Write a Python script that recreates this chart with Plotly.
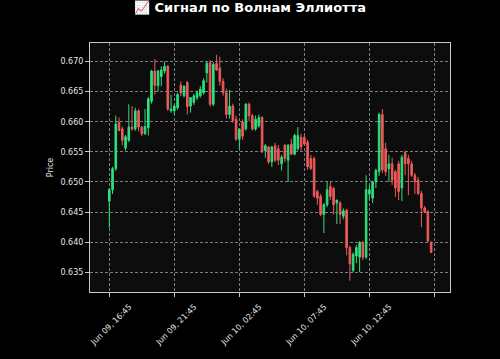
import pandas as pd
import plotly.graph_objects as go

# ---- data (15-minute candles) ----
times = pd.date_range("2025-06-09 16:45", periods=100, freq="15min")

opens = [0.6468, 0.6487, 0.6522, 0.6599, 0.6588, 0.6556, 0.6569, 0.6591, 0.6588, 0.6618,
         0.6591, 0.6580, 0.6590, 0.6634, 0.6684, 0.6660, 0.6675, 0.6684, 0.6692, 0.6618,
         0.6618, 0.6623, 0.6661, 0.6643, 0.6665, 0.6626, 0.6632, 0.6640, 0.6643, 0.6648,
         0.6681, 0.6698, 0.6629, 0.6697, 0.6689, 0.6667, 0.6648, 0.6612, 0.6626, 0.6604,
         0.6571, 0.6600, 0.6588, 0.6629, 0.6610, 0.6588, 0.6593, 0.6607, 0.6552, 0.6558,
         0.6533, 0.6560, 0.6555, 0.6530, 0.6561, 0.6536, 0.6563, 0.6546, 0.6555, 0.6574,
         0.6574, 0.6566, 0.6539, 0.6539, 0.6484, 0.6476, 0.6446, 0.6462, 0.6492, 0.6489,
         0.6465, 0.6465, 0.6443, 0.6453, 0.6391, 0.6353, 0.6377, 0.6375, 0.6399, 0.6375,
         0.6480, 0.6473, 0.6500, 0.6517, 0.6612, 0.6555, 0.6522, 0.6530, 0.6517, 0.6530,
         0.6490, 0.6549, 0.6539, 0.6530, 0.6511, 0.6503, 0.6481, 0.6457, 0.6451, 0.6399]
highs = [0.6490, 0.6525, 0.6610, 0.6607, 0.6592, 0.6578, 0.6629, 0.6626, 0.6623, 0.6621,
         0.6593, 0.6621, 0.6641, 0.6686, 0.6704, 0.6686, 0.6692, 0.6700, 0.6694, 0.6645,
         0.6628, 0.6648, 0.6667, 0.6660, 0.6668, 0.6631, 0.6646, 0.6652, 0.6659, 0.6672,
         0.6700, 0.6702, 0.6699, 0.6711, 0.6708, 0.6672, 0.6655, 0.6653, 0.6630, 0.6610,
         0.6588, 0.6604, 0.6631, 0.6632, 0.6613, 0.6610, 0.6612, 0.6609, 0.6563, 0.6560,
         0.6560, 0.6565, 0.6561, 0.6545, 0.6563, 0.6563, 0.6572, 0.6580, 0.6591, 0.6580,
         0.6578, 0.6570, 0.6545, 0.6542, 0.6487, 0.6480, 0.6465, 0.6500, 0.6500, 0.6492,
         0.6468, 0.6468, 0.6456, 0.6455, 0.6394, 0.6383, 0.6395, 0.6402, 0.6402, 0.6511,
         0.6495, 0.6502, 0.6522, 0.6615, 0.6621, 0.6565, 0.6545, 0.6540, 0.6520, 0.6535,
         0.6545, 0.6552, 0.6545, 0.6535, 0.6515, 0.6508, 0.6485, 0.6460, 0.6453, 0.6402]
lows = [0.6424, 0.6480, 0.6518, 0.6585, 0.6561, 0.6552, 0.6566, 0.6585, 0.6585, 0.6584,
        0.6576, 0.6578, 0.6577, 0.6630, 0.6645, 0.6650, 0.6659, 0.6680, 0.6618, 0.6615,
        0.6612, 0.6620, 0.6642, 0.6640, 0.6612, 0.6615, 0.6628, 0.6636, 0.6640, 0.6645,
        0.6665, 0.6625, 0.6626, 0.6684, 0.6660, 0.6643, 0.6605, 0.6605, 0.6598, 0.6568,
        0.6555, 0.6570, 0.6585, 0.6601, 0.6585, 0.6585, 0.6590, 0.6548, 0.6540, 0.6530,
        0.6525, 0.6533, 0.6528, 0.6519, 0.6533, 0.6500, 0.6545, 0.6544, 0.6552, 0.6552,
        0.6560, 0.6520, 0.6520, 0.6474, 0.6462, 0.6443, 0.6415, 0.6458, 0.6470, 0.6446,
        0.6430, 0.6430, 0.6438, 0.6378, 0.6336, 0.6350, 0.6365, 0.6350, 0.6370, 0.6372,
        0.6470, 0.6465, 0.6490, 0.6510, 0.6515, 0.6510, 0.6500, 0.6495, 0.6475, 0.6470,
        0.6468, 0.6511, 0.6478, 0.6508, 0.6480, 0.6478, 0.6425, 0.6448, 0.6400, 0.6382]
closes = [0.6487, 0.6522, 0.6596, 0.6585, 0.6569, 0.6575, 0.6591, 0.6588, 0.6618, 0.6591,
          0.6580, 0.6592, 0.6638, 0.6684, 0.6660, 0.6684, 0.6686, 0.6692, 0.6621, 0.6621,
          0.6626, 0.6645, 0.6648, 0.6659, 0.6625, 0.6640, 0.6643, 0.6648, 0.6654, 0.6668,
          0.6697, 0.6629, 0.6695, 0.6686, 0.6667, 0.6648, 0.6612, 0.6626, 0.6602, 0.6571,
          0.6588, 0.6576, 0.6629, 0.6610, 0.6588, 0.6604, 0.6607, 0.6550, 0.6560, 0.6533,
          0.6558, 0.6536, 0.6536, 0.6541, 0.6539, 0.6561, 0.6546, 0.6577, 0.6577, 0.6558,
          0.6563, 0.6525, 0.6522, 0.6476, 0.6473, 0.6446, 0.6462, 0.6487, 0.6476, 0.6462,
          0.6470, 0.6446, 0.6452, 0.6391, 0.6364, 0.6380, 0.6391, 0.6399, 0.6375, 0.6487,
          0.6487, 0.6500, 0.6519, 0.6612, 0.6520, 0.6517, 0.6530, 0.6503, 0.6490, 0.6484,
          0.6541, 0.6530, 0.6530, 0.6511, 0.6500, 0.6481, 0.6457, 0.6450, 0.6402, 0.6383]

tick_times = ["2025-06-09 16:45", "2025-06-09 21:45", "2025-06-10 02:45",
              "2025-06-10 07:45", "2025-06-10 12:45", "2025-06-10 17:45"]
tick_labels = ["Jun 09, 16:45", "Jun 09, 21:45", "Jun 10, 02:45",
               "Jun 10, 07:45", "Jun 10, 12:45", ""]
y_ticks = [0.635, 0.640, 0.645, 0.650, 0.655, 0.660, 0.665, 0.670]

title_text = "📈 Сигнал по Волнам Эллиотта"

GREEN = "#2ee07e"
RED = "#ee5a5a"

fig = go.Figure(go.Candlestick(
    x=times, open=opens, high=highs, low=lows, close=closes,
    increasing=dict(line=dict(color=GREEN, width=1), fillcolor=GREEN),
    decreasing=dict(line=dict(color=RED, width=1), fillcolor=RED),
    whiskerwidth=0, showlegend=False,
))

axis_common = dict(
    showline=True, linecolor="#c8c8c8", linewidth=1, mirror=True,
    showgrid=True, gridcolor="rgba(200,200,200,0.6)", gridwidth=0.8, griddash="3px,2px",
    ticks="outside", ticklen=4, tickcolor="#c8c8c8", tickwidth=1,
    tickfont=dict(family="DejaVu Sans", size=8, color="#e6e6e6"),
    zeroline=False,
)

fig.update_layout(
    width=500, height=359,
    margin=dict(l=90, r=50, t=43, b=64),
    paper_bgcolor="#000000", plot_bgcolor="#0d0d0d",
    title=dict(text=title_text, x=0.5, xanchor="center", y=1 - 7.5 / 359, yanchor="middle",
               font=dict(family="DejaVu Sans", size=13, color="#ffffff", weight="bold")),
    xaxis=dict(axis_common, tickvals=tick_times, ticktext=tick_labels, tickangle=-45,
               ticklabelshift=20, ticklabelstandoff=2,
               range=["2025-06-09 15:16", "2025-06-10 18:57"], rangeslider=dict(visible=False)),
    yaxis=dict(axis_common, tickvals=y_ticks, tickformat=".3f", range=[0.63172, 0.67307],
               title=dict(text="Price", font=dict(family="DejaVu Sans", size=8, color="#e6e6e6"),
                          standoff=5)),
)

fig.write_html("out.html")
